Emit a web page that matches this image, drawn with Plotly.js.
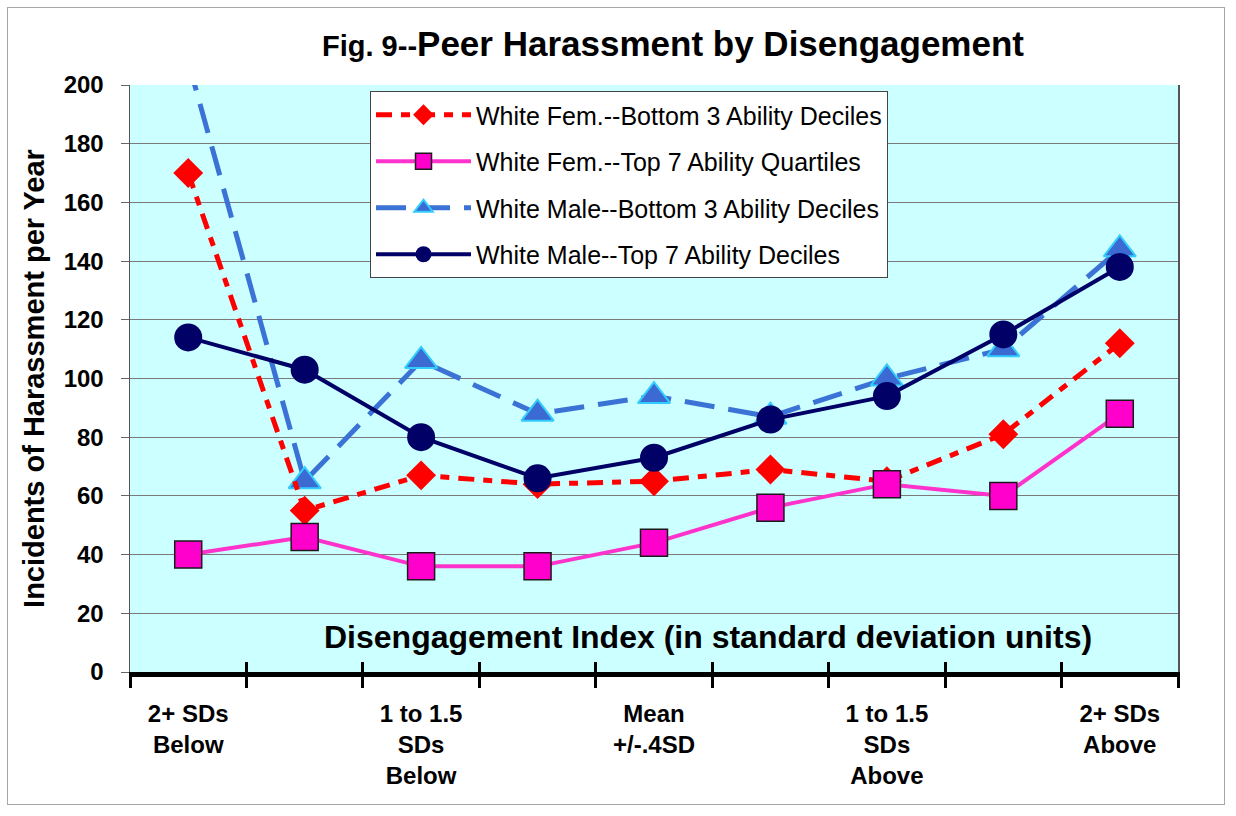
<!DOCTYPE html>
<html>
<head>
<meta charset="utf-8">
<script src="https://cdn.plot.ly/plotly-3.0.1.min.js"></script>
<style>
  html, body { margin: 0; padding: 0; background: #ffffff; }
  #frame { position: absolute; left: 7px; top: 7px; width: 1218px; height: 798px; border: 1px solid #a6a6a6; box-sizing: border-box; }
  #chart { position: absolute; left: 0; top: 0; width: 1236px; height: 816px; }
</style>
</head>
<body>
<div id="frame"></div>
<div id="chart"></div>
<script>
// ---- data ----
const categoryIndex = [0, 1, 2, 3, 4, 5, 6, 7, 8];
const tickLabels = ["2+ SDs<br>Below", "", "1 to 1.5<br>SDs<br>Below", "", "Mean<br>+/-.4SD", "", "1 to 1.5<br>SDs<br>Above", "", "2+ SDs<br>Above"];
const boundaries = [-0.5, 0.5, 1.5, 2.5, 3.5, 4.5, 5.5, 6.5, 7.5, 8.5];

const femBottom3 = [170, 55, 67, 64, 65, 69, 65, 81, 112];
const femTop7 = [40, 46, 36, 36, 44, 56, 64, 60, 88];
const maleBottom3 = [208, 65, 106, 88, 94, 87, 100, 110, 144];
const maleTop7 = [114, 103, 80, 66, 73, 86, 94, 115, 138];

const names = [
  "White Fem.--Bottom 3 Ability Deciles",
  "White Fem.--Top 7 Ability Quartiles",
  "White Male--Bottom 3 Ability Deciles",
  "White Male--Top 7 Ability Deciles"
];
const yTicks = [0, 20, 40, 60, 80, 100, 120, 140, 160, 180, 200];

const FONT = "Liberation Sans, Arial, sans-serif";

const traces = [
  {
    x: categoryIndex, y: maleBottom3, name: names[2], legendrank: 3, legendgroup: "g3",
    mode: "lines+markers",
    line: { color: "#3b72d6", width: 5, dash: "30px,14px" },
    marker: { symbol: "triangle-up", size: 28, color: "#3a6ad2", line: { color: "#33ccff", width: 2 } }
  },
  {
    x: categoryIndex, y: femBottom3, name: names[0], legendrank: 1, legendgroup: "g1",
    mode: "lines+markers",
    line: { color: "#ff0000", width: 5, dash: "16px,9px,9px,9px" },
    marker: { symbol: "diamond", size: 23, color: "#ff0000" }
  },
  {
    x: categoryIndex, y: femTop7, name: names[1], legendrank: 2, legendgroup: "g2",
    mode: "lines+markers",
    line: { color: "#ff33cc", width: 4 },
    marker: { symbol: "square", size: 27, color: "#ff00cc", line: { color: "#1a1a1a", width: 1.5 } }
  },
  {
    x: categoryIndex, y: maleTop7, name: names[3], legendrank: 4, legendgroup: "g4",
    mode: "lines+markers",
    line: { color: "#000066", width: 4 },
    marker: { symbol: "circle", size: 28, color: "#000066" }
  }
];

const layout = {
  width: 1236, height: 816,
  margin: { l: 130, r: 58, t: 85, b: 144 },
  paper_bgcolor: "rgba(0,0,0,0)",
  plot_bgcolor: "#ccffff",
  showlegend: true,
  title: {
    text: "<span style='font-size:29px'>Fig. 9--</span>Peer Harassment by Disengagement",
    font: { family: FONT, size: 35, color: "#000000", weight: "bold" },
    x: 673 / 1236, xanchor: "center", xref: "container",
    y: 1 - 44 / 816, yanchor: "middle", yref: "container"
  },
  xaxis: {
    range: [-0.5, 8.5], tickmode: "array", tickvals: boundaries, ticktext: boundaries.map(() => ""),
    ticks: "outside", ticklen: 11, tickwidth: 3, tickcolor: "#000000",
    showgrid: false, zeroline: false, showline: true, linecolor: "#000000", linewidth: 5,
    fixedrange: true
  },
  xaxis2: {
    overlaying: "x", anchor: "y", side: "bottom",
    range: [-0.5, 8.5], tickmode: "array", tickvals: categoryIndex, ticktext: tickLabels,
    ticks: "", showgrid: false, zeroline: false, showline: false,
    ticklabelstandoff: 25,
    tickfont: { family: FONT, size: 24, color: "#000000", weight: "bold" }
  },
  xaxis3: {
    overlaying: "x", anchor: "y", side: "bottom",
    range: [-0.5, 8.5], tickmode: "array", tickvals: boundaries, ticktext: boundaries.map(() => ""),
    ticks: "inside", ticklen: 10, tickwidth: 3, tickcolor: "#000000",
    showgrid: false, zeroline: false, showline: false
  },
  yaxis: {
    range: [0, 200], tickmode: "array", tickvals: yTicks,
    ticks: "outside", ticklen: 8, tickwidth: 1, tickcolor: "#666666",
    showgrid: true, gridcolor: "#7a7a7a", gridwidth: 1,
    zeroline: false, showline: true, mirror: true, linecolor: "#555555", linewidth: 1.5,
    ticklabelstandoff: 12,
    tickfont: { family: FONT, size: 24, color: "#000000", weight: "bold" },
    title: {
      text: "Incidents of Harassment per Year",
      font: { family: FONT, size: 29, color: "#000000", weight: "bold" },
      standoff: 10
    },
    fixedrange: true
  },
  legend: {
    x: (370 - 130) / 1048, y: (672 - 91) / 587, xanchor: "left", yanchor: "top",
    bgcolor: "#ffffff", bordercolor: "#444444", borderwidth: 1,
    font: { family: FONT, size: 25, color: "#000000" },
    itemwidth: 95, tracegroupgap: 11, traceorder: "grouped"
  },
  annotations: [
    {
      text: "Disengagement Index (in standard deviation units)",
      xref: "paper", yref: "paper", x: (708 - 130) / 1048, y: (672 - 637) / 587,
      xanchor: "center", yanchor: "middle", showarrow: false,
      font: { family: FONT, size: 32, color: "#000000", weight: "bold" }
    }
  ]
};

// ticks on the overlay axes need a dummy trace to activate them
const dummy2 = { x: [0], y: [0], xaxis: "x2", mode: "markers", marker: { opacity: 0 }, showlegend: false, hoverinfo: "skip" };
const dummy3 = { x: [0], y: [0], xaxis: "x3", mode: "markers", marker: { opacity: 0 }, showlegend: false, hoverinfo: "skip" };

Plotly.newPlot("chart", [dummy2, dummy3].concat(traces), layout, { displayModeBar: false, staticPlot: true });
</script>
</body>
</html>
